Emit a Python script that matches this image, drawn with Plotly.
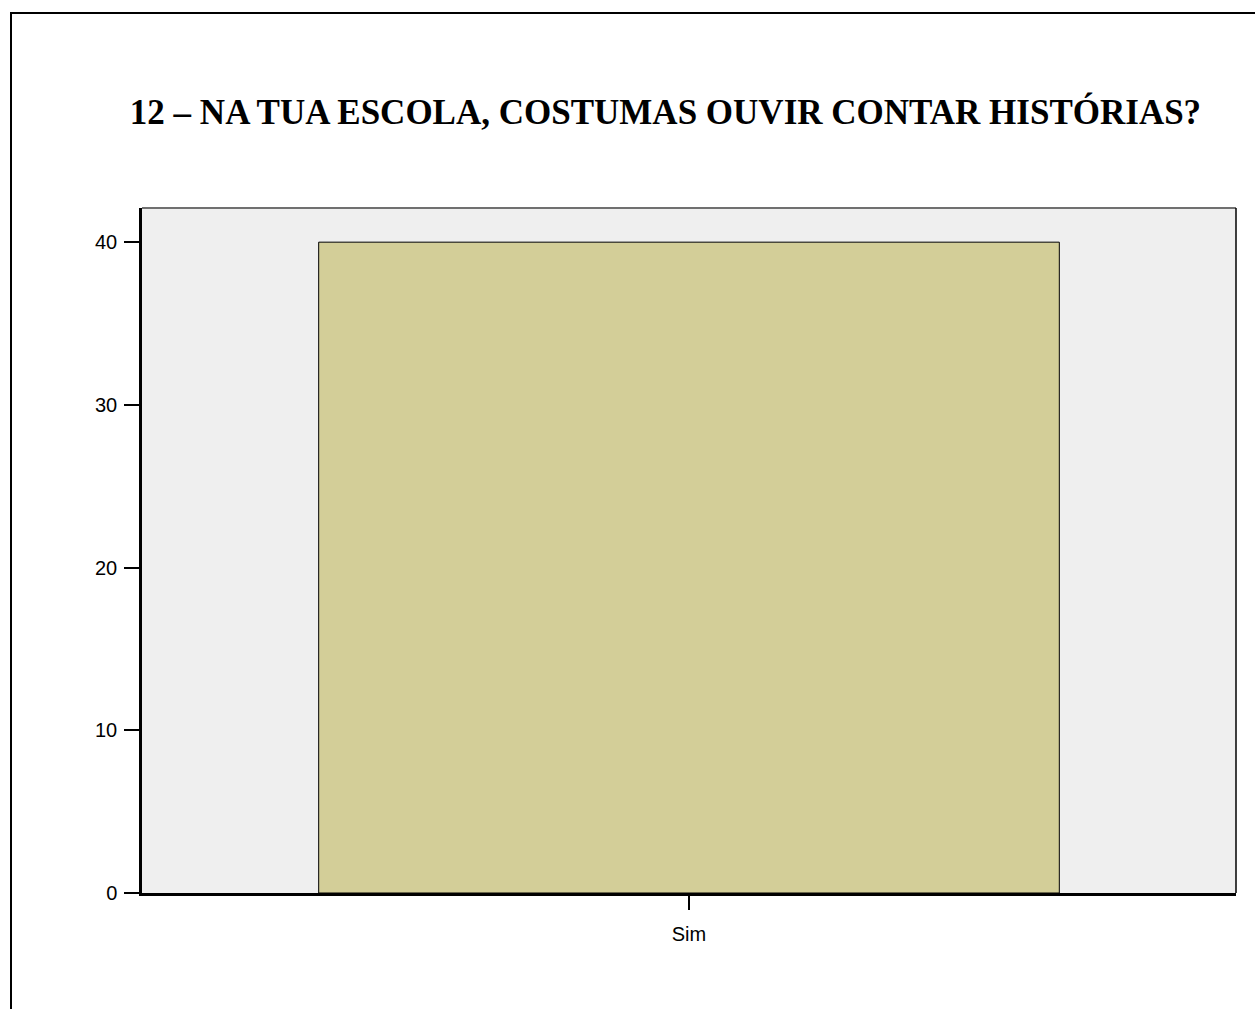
import plotly.graph_objects as go

categories = ["Sim"]
counts = [40]
y_ticks = [0, 10, 20, 30, 40]
title_text = "12 – NA TUA ESCOLA, COSTUMAS OUVIR CONTAR HISTÓRIAS?"

W, H = 1255, 1009
L, R, T, B = 142, 19, 208, 116
pw, ph = W - L - R, H - T - B

fig = go.Figure(go.Bar(
    x=categories, y=counts, width=0.677,
    marker=dict(color="#D3CE98", line=dict(color="#000000", width=1)),
))

fig.update_layout(
    width=W, height=H,
    margin=dict(l=L, r=R, t=T, b=B, pad=0),
    paper_bgcolor="white", plot_bgcolor="#EFEFEF",
    showlegend=False,
    title=dict(text="<b>" + title_text + "</b>", x=(665.5 - L) / pw, xref="paper", xanchor="center",
               y=1 - 112 / H, yanchor="middle",
               font=dict(family="Liberation Serif", size=35, color="black")),
    font=dict(family="Liberation Sans", size=20, color="black"),
)
fig.update_xaxes(range=[-0.5, 0.5], showgrid=False, zeroline=False,
                 showline=True, linecolor="black", linewidth=2.5,
                 ticks="outside", ticklen=14, tickwidth=2, tickcolor="black",
                 ticklabelstandoff=7,
                 tickfont=dict(size=20))
fig.update_yaxes(range=[0, 42.1], tickvals=y_ticks, showgrid=False, zeroline=False,
                 showline=True, linecolor="black", linewidth=2.5,
                 ticks="outside", ticklen=15, tickwidth=2, tickcolor="black",
                 ticklabelstandoff=3,
                 tickfont=dict(size=20))

# plot area border (top gray, right black)
fig.add_shape(type="line", xref="paper", yref="paper", x0=0, x1=1, y0=1, y1=1,
              line=dict(color="#707070", width=2))
fig.add_shape(type="line", xref="paper", yref="paper", x0=1, x1=1, y0=0, y1=1,
              line=dict(color="black", width=1.5))
# outer frame
fx0 = (11 - L) / pw
fy1 = 1 + (T - 13) / ph
fig.add_shape(type="rect", xref="paper", yref="paper", x0=fx0, x1=1.2, y0=-0.5, y1=fy1,
              line=dict(color="black", width=2), fillcolor="rgba(0,0,0,0)")

fig.write_html("out.html")
